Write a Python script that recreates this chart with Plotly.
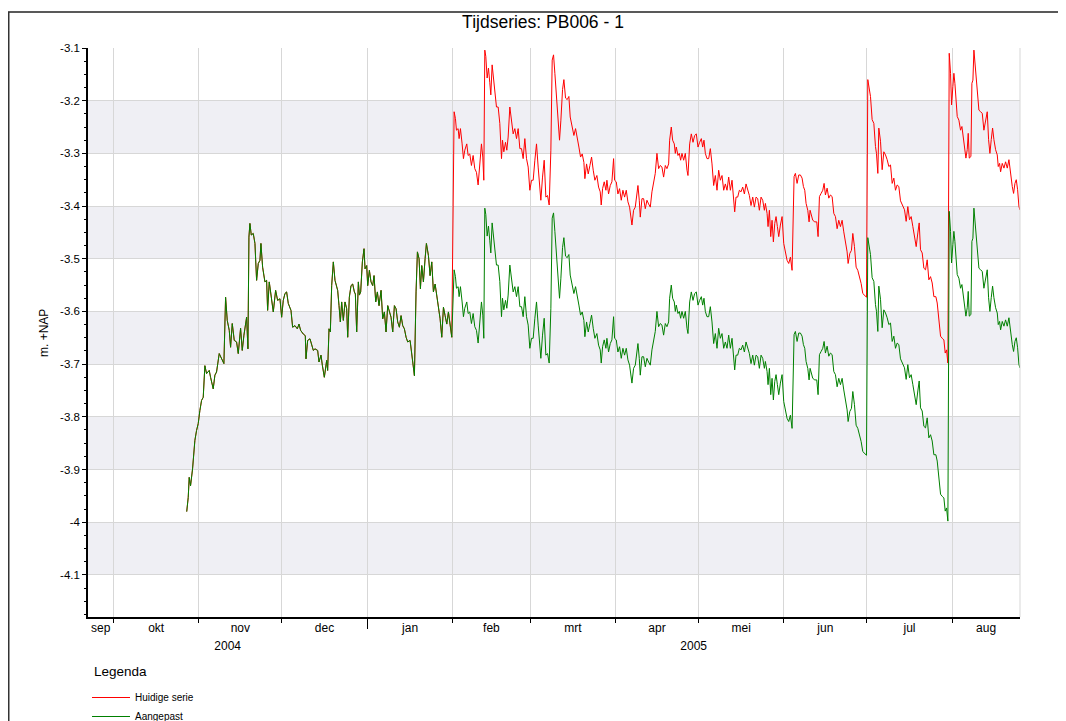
import pandas as pd
import plotly.graph_objects as go

# ---------------- data ----------------
# day offsets counted from 2004-10-01
BASE_DATE = "2004-10-01"

# period where both series coincide
shared_days = [26.57, 27.11, 27.47, 27.95, 28.68, 29.52, 30.13, 30.73, 31.34, 31.94, 32.55, 33.15, 33.76, 34.72,
               35.21, 36.17, 36.78, 37.38, 38.35, 39.20, 40.04, 40.65, 41.25, 41.98, 42.46, 43.07, 43.79, 44.64,
               45.24, 46.09, 46.69, 47.30, 47.66, 48.27, 48.75, 49.11, 49.47, 49.96, 50.68, 51.29, 51.89, 52.50,
               53.10, 53.46, 54.07, 54.91, 55.52, 55.88, 56.48, 57.09, 57.94, 58.78, 59.51, 60.36, 60.96, 61.56,
               62.17, 62.77, 63.38, 64.35, 64.95, 65.80, 66.64, 67.25, 67.85, 68.82, 69.54, 69.79, 70.39, 71.24,
               71.84, 72.45, 73.05, 74.02, 74.50, 75.23, 75.71, 76.44, 77.28, 77.64, 78.13, 78.61, 79.10, 79.70,
               80.30, 80.91, 81.27, 81.76, 82.24, 82.72, 83.33, 83.93, 84.54, 84.90, 85.50, 86.11, 86.71, 87.32,
               87.68, 88.16, 88.77, 89.13, 89.61, 90.22, 90.82, 91.19, 91.79, 92.15, 92.76, 93.36, 93.97, 94.45,
               95.06, 95.66, 96.26, 96.99, 97.60, 98.20, 98.80, 99.41, 100.01, 100.62, 101.22, 101.83, 102.43,
               103.03, 103.64, 104.24, 104.85, 105.45, 106.06, 106.66, 107.51, 108.11, 109.08, 109.68, 110.17,
               110.77, 111.26, 111.74, 112.34, 112.95, 113.43, 114.16, 114.76, 115.37, 115.97, 116.58, 117.18,
               117.79, 118.39, 118.99, 119.60, 120.20, 120.81, 121.41, 122.02, 122.62]
shared_level = [-3.980, -3.953, -3.915, -3.931, -3.899, -3.845, -3.826, -3.813, -3.788, -3.769, -3.763, -3.703,
                -3.718, -3.712, -3.725, -3.747, -3.721, -3.715, -3.680, -3.690, -3.699, -3.573, -3.617, -3.636,
                -3.668, -3.623, -3.655, -3.658, -3.680, -3.632, -3.674, -3.645, -3.629, -3.611, -3.671, -3.459,
                -3.433, -3.455, -3.452, -3.471, -3.541, -3.509, -3.503, -3.471, -3.516, -3.544, -3.541, -3.598,
                -3.544, -3.566, -3.601, -3.560, -3.579, -3.576, -3.611, -3.579, -3.566, -3.563, -3.585, -3.598,
                -3.630, -3.627, -3.633, -3.624, -3.636, -3.643, -3.646, -3.690, -3.655, -3.652, -3.661, -3.674,
                -3.671, -3.674, -3.696, -3.683, -3.702, -3.725, -3.693, -3.712, -3.633, -3.639, -3.551, -3.506,
                -3.541, -3.551, -3.560, -3.589, -3.620, -3.582, -3.617, -3.582, -3.595, -3.649, -3.573, -3.551,
                -3.548, -3.563, -3.567, -3.639, -3.544, -3.569, -3.563, -3.506, -3.481, -3.519, -3.513, -3.551,
                -3.522, -3.544, -3.551, -3.532, -3.582, -3.563, -3.589, -3.560, -3.614, -3.601, -3.639, -3.589,
                -3.601, -3.611, -3.639, -3.589, -3.595, -3.620, -3.630, -3.608, -3.627, -3.633, -3.649, -3.658,
                -3.655, -3.677, -3.722, -3.563, -3.487, -3.500, -3.557, -3.513, -3.544, -3.500, -3.471, -3.494,
                -3.532, -3.506, -3.563, -3.548, -3.567, -3.595, -3.614, -3.649, -3.592, -3.608, -3.624, -3.601,
                -3.627, -3.649]

# period after the series diverge (from 1 Feb 2005)
after_days = [123.47, 123.95, 124.31, 124.92, 125.28, 125.76, 126.37, 126.85, 127.33, 128.06, 128.55, 129.15,
              129.75, 130.36, 130.96, 131.57, 132.17, 132.78, 133.38, 133.86, 134.23, 134.59, 134.95, 135.44,
              135.92, 136.40, 136.77, 137.25, 137.74, 138.22, 138.82, 139.43, 140.03, 140.64, 141.00, 141.48,
              142.09, 142.57, 143.05, 143.66, 144.26, 144.87, 145.47, 146.08, 146.68, 147.29, 147.89, 148.49,
              149.10, 149.70, 150.31, 150.91, 151.52, 152.12, 152.73, 153.33, 153.93, 154.54, 154.90, 155.51,
              156.11, 156.72, 157.32, 157.92, 158.53, 159.01, 159.50, 159.98, 160.58, 161.19, 161.67, 162.16,
              162.76, 163.25, 163.85, 164.45, 165.06, 165.54, 166.27, 166.87, 167.48, 168.08, 168.69, 169.29,
              169.89, 170.50, 170.86, 171.47, 172.07, 172.68, 173.28, 173.88, 174.49, 175.21, 175.82, 176.42,
              176.78, 177.27, 177.87, 178.48, 178.84, 179.44, 180.05, 180.65, 181.26, 181.62, 182.23, 182.83,
              183.43, 184.04, 184.64, 185.25, 185.85, 186.46, 187.06, 187.91, 188.51, 189.12, 189.72, 190.09,
              190.57, 190.93, 191.54, 192.14, 192.75, 193.35, 193.95, 194.56, 195.16, 195.77, 196.37, 196.97,
              197.58, 198.18, 198.79, 199.39, 200.00, 200.60, 201.21, 201.57, 202.17, 202.66, 203.26, 203.63,
              203.99, 204.59, 205.08, 205.56, 206.05, 206.65, 207.25, 207.86, 208.22, 208.83, 209.43, 210.04,
              210.64, 211.24, 211.85, 212.45, 213.06, 213.54, 214.02, 214.51, 215.11, 215.72, 216.32, 216.93,
              217.53, 218.13, 218.74, 219.34, 219.95, 220.55, 221.16, 221.76, 222.37, 222.97, 223.58, 224.18,
              224.78, 225.15, 225.63, 226.24, 226.84, 227.45, 228.05, 228.66, 229.26, 229.86, 230.47, 231.07,
              231.68, 232.28, 232.89, 233.49, 234.09, 234.70, 235.30, 235.91, 236.27, 236.88, 237.24, 237.72,
              238.21, 238.69, 239.17, 239.66, 240.14, 240.62, 241.11, 241.71, 242.32, 242.92, 243.52, 244.13,
              244.73, 245.34, 245.94, 246.30, 246.67, 247.15, 247.76, 248.36, 248.96, 249.57, 250.05, 250.54,
              251.02, 251.63, 252.11, 252.47, 252.96, 253.44, 254.17, 254.89, 255.37, 255.86, 256.46, 257.07,
              257.55, 258.03, 258.64, 259.24, 259.85, 260.45, 261.06, 261.66, 262.27, 262.87, 263.47, 264.08,
              264.68, 265.29, 265.89, 266.25, 266.86, 267.46, 267.95, 268.55, 269.16, 269.76, 270.37, 270.97,
              271.57, 272.18, 272.91, 273.39, 273.87, 274.36, 274.96, 275.57, 276.17, 276.53, 277.02, 277.38,
              277.99, 278.59, 279.19, 279.80, 280.40, 281.01, 281.61, 282.22, 282.82, 283.42, 284.03, 284.63,
              285.24, 285.60, 286.08, 286.68, 287.29, 287.89, 288.50, 289.10, 289.71, 290.31, 290.92, 291.52,
              292.01, 292.49, 293.10, 293.70, 294.31, 294.91, 295.51, 296.12, 296.72, 297.33, 298.05, 298.54,
              299.14, 299.75, 300.35, 300.96, 301.44, 301.92, 302.41, 302.89, 303.37, 303.74, 304.22, 304.58,
              304.95, 305.43, 305.79, 306.40, 307.00, 307.49, 307.97, 308.45, 308.94, 309.42, 309.78, 310.15,
              310.75, 311.11, 311.48, 311.84, 312.44, 313.05, 313.65, 314.26, 314.86, 315.46, 316.07, 316.67,
              317.16, 317.64, 318.12, 318.61, 319.09, 319.70, 320.30, 320.66, 321.15, 321.51, 322.11, 322.72,
              323.32, 323.93, 324.53, 325.13, 325.74, 326.22, 326.71, 327.19, 327.68, 328.16, 328.52, 329.01]

huidige_after = [-3.221, -3.234, -3.256, -3.253, -3.272, -3.253, -3.282, -3.310, -3.294, -3.282, -3.304, -3.301,
                 -3.323, -3.304, -3.329, -3.336, -3.360, -3.326, -3.282, -3.307, -3.351, -3.104, -3.116, -3.157,
                 -3.138, -3.166, -3.189, -3.132, -3.160, -3.179, -3.212, -3.212, -3.243, -3.310, -3.275, -3.297,
                 -3.279, -3.294, -3.269, -3.212, -3.234, -3.263, -3.253, -3.272, -3.253, -3.291, -3.291, -3.310,
                 -3.272, -3.310, -3.326, -3.370, -3.351, -3.351, -3.313, -3.282, -3.326, -3.357, -3.389, -3.345,
                 -3.313, -3.383, -3.380, -3.398, -3.294, -3.123, -3.113, -3.148, -3.195, -3.243, -3.275, -3.237,
                 -3.179, -3.160, -3.195, -3.198, -3.192, -3.231, -3.250, -3.266, -3.253, -3.275, -3.288, -3.307,
                 -3.301, -3.317, -3.348, -3.320, -3.339, -3.323, -3.307, -3.332, -3.351, -3.342, -3.364, -3.373,
                 -3.398, -3.367, -3.354, -3.370, -3.351, -3.377, -3.361, -3.354, -3.310, -3.351, -3.354, -3.377,
                 -3.367, -3.389, -3.370, -3.383, -3.370, -3.392, -3.402, -3.436, -3.408, -3.402, -3.377, -3.361,
                 -3.389, -3.421, -3.386, -3.386, -3.405, -3.389, -3.396, -3.402, -3.373, -3.354, -3.338, -3.300,
                 -3.329, -3.323, -3.326, -3.345, -3.323, -3.329, -3.320, -3.275, -3.250, -3.275, -3.282, -3.300,
                 -3.288, -3.304, -3.300, -3.313, -3.300, -3.313, -3.300, -3.332, -3.342, -3.282, -3.263, -3.279,
                 -3.266, -3.263, -3.288, -3.279, -3.272, -3.288, -3.275, -3.300, -3.310, -3.310, -3.291, -3.320,
                 -3.361, -3.342, -3.370, -3.332, -3.351, -3.342, -3.370, -3.358, -3.370, -3.345, -3.370, -3.351,
                 -3.383, -3.411, -3.383, -3.383, -3.370, -3.373, -3.364, -3.377, -3.358, -3.370, -3.380, -3.399,
                 -3.383, -3.402, -3.383, -3.386, -3.408, -3.383, -3.389, -3.408, -3.395, -3.414, -3.439, -3.408,
                 -3.458, -3.427, -3.468, -3.433, -3.420, -3.439, -3.458, -3.436, -3.420, -3.471, -3.484, -3.503,
                 -3.509, -3.497, -3.522, -3.458, -3.344, -3.338, -3.357, -3.341, -3.341, -3.347, -3.363, -3.370,
                 -3.395, -3.408, -3.430, -3.408, -3.420, -3.427, -3.430, -3.430, -3.458, -3.382, -3.376, -3.370,
                 -3.357, -3.379, -3.366, -3.385, -3.379, -3.382, -3.414, -3.420, -3.443, -3.427, -3.439, -3.427,
                 -3.449, -3.465, -3.487, -3.509, -3.490, -3.484, -3.452, -3.477, -3.516, -3.522, -3.535, -3.547,
                 -3.566, -3.570, -3.573, -3.160, -3.173, -3.192, -3.236, -3.243, -3.287, -3.300, -3.338, -3.252,
                 -3.277, -3.331, -3.297, -3.303, -3.312, -3.325, -3.322, -3.357, -3.347, -3.370, -3.360, -3.363,
                 -3.390, -3.395, -3.401, -3.407, -3.429, -3.401, -3.426, -3.420, -3.439, -3.461, -3.477, -3.451,
                 -3.432, -3.483, -3.489, -3.518, -3.521, -3.502, -3.540, -3.534, -3.546, -3.572, -3.572, -3.584,
                 -3.616, -3.647, -3.651, -3.654, -3.679, -3.673, -3.698, -3.110, -3.148, -3.208, -3.173, -3.148,
                 -3.167, -3.202, -3.230, -3.237, -3.256, -3.249, -3.268, -3.281, -3.309, -3.293, -3.262, -3.309,
                 -3.306, -3.167, -3.161, -3.104, -3.148, -3.180, -3.218, -3.221, -3.224, -3.256, -3.237, -3.221,
                 -3.274, -3.300, -3.274, -3.252, -3.274, -3.293, -3.303, -3.325, -3.319, -3.335, -3.319, -3.328,
                 -3.316, -3.328, -3.312, -3.344, -3.363, -3.376, -3.357, -3.350, -3.369, -3.401, -3.407, -3.382]

aangepast_after = [-3.521, -3.534, -3.556, -3.553, -3.572, -3.553, -3.582, -3.610, -3.594, -3.582, -3.604, -3.601,
                   -3.623, -3.604, -3.629, -3.636, -3.660, -3.626, -3.582, -3.607, -3.651, -3.404, -3.416, -3.457,
                   -3.438, -3.466, -3.489, -3.432, -3.460, -3.479, -3.512, -3.512, -3.543, -3.610, -3.575, -3.597,
                   -3.579, -3.594, -3.569, -3.512, -3.534, -3.563, -3.553, -3.572, -3.553, -3.591, -3.591, -3.610,
                   -3.572, -3.610, -3.626, -3.670, -3.651, -3.651, -3.613, -3.582, -3.626, -3.657, -3.689, -3.645,
                   -3.613, -3.683, -3.680, -3.698, -3.594, -3.423, -3.413, -3.448, -3.495, -3.543, -3.575, -3.537,
                   -3.479, -3.460, -3.495, -3.498, -3.492, -3.531, -3.550, -3.566, -3.553, -3.575, -3.588, -3.607,
                   -3.601, -3.617, -3.648, -3.620, -3.639, -3.623, -3.607, -3.632, -3.651, -3.642, -3.664, -3.673,
                   -3.698, -3.667, -3.654, -3.670, -3.651, -3.677, -3.661, -3.654, -3.610, -3.651, -3.654, -3.677,
                   -3.667, -3.689, -3.670, -3.683, -3.670, -3.692, -3.702, -3.736, -3.708, -3.702, -3.677, -3.661,
                   -3.689, -3.721, -3.686, -3.686, -3.705, -3.689, -3.696, -3.702, -3.673, -3.654, -3.638, -3.600,
                   -3.629, -3.623, -3.626, -3.645, -3.623, -3.629, -3.620, -3.575, -3.550, -3.575, -3.582, -3.600,
                   -3.588, -3.604, -3.600, -3.613, -3.600, -3.613, -3.600, -3.632, -3.642, -3.582, -3.563, -3.579,
                   -3.566, -3.563, -3.588, -3.579, -3.572, -3.588, -3.575, -3.600, -3.610, -3.610, -3.591, -3.620,
                   -3.661, -3.642, -3.670, -3.632, -3.651, -3.642, -3.670, -3.658, -3.670, -3.645, -3.670, -3.651,
                   -3.683, -3.711, -3.683, -3.683, -3.670, -3.673, -3.664, -3.677, -3.658, -3.670, -3.680, -3.699,
                   -3.683, -3.702, -3.683, -3.686, -3.708, -3.683, -3.689, -3.708, -3.695, -3.714, -3.739, -3.708,
                   -3.758, -3.727, -3.768, -3.733, -3.720, -3.739, -3.758, -3.736, -3.720, -3.771, -3.784, -3.803,
                   -3.809, -3.797, -3.822, -3.758, -3.644, -3.638, -3.657, -3.641, -3.641, -3.647, -3.663, -3.670,
                   -3.695, -3.708, -3.730, -3.708, -3.720, -3.727, -3.730, -3.730, -3.758, -3.682, -3.676, -3.670,
                   -3.657, -3.679, -3.666, -3.685, -3.679, -3.682, -3.714, -3.720, -3.743, -3.727, -3.739, -3.727,
                   -3.749, -3.765, -3.787, -3.809, -3.790, -3.784, -3.752, -3.777, -3.816, -3.822, -3.835, -3.847,
                   -3.866, -3.870, -3.873, -3.460, -3.473, -3.492, -3.536, -3.543, -3.587, -3.600, -3.638, -3.552,
                   -3.577, -3.631, -3.597, -3.603, -3.612, -3.625, -3.622, -3.657, -3.647, -3.670, -3.660, -3.663,
                   -3.690, -3.695, -3.701, -3.707, -3.729, -3.701, -3.726, -3.720, -3.739, -3.761, -3.777, -3.751,
                   -3.732, -3.783, -3.789, -3.818, -3.821, -3.802, -3.840, -3.834, -3.846, -3.872, -3.872, -3.884,
                   -3.916, -3.947, -3.951, -3.954, -3.979, -3.973, -3.998, -3.410, -3.448, -3.508, -3.473, -3.448,
                   -3.467, -3.502, -3.530, -3.537, -3.556, -3.549, -3.568, -3.581, -3.609, -3.593, -3.562, -3.609,
                   -3.606, -3.467, -3.461, -3.404, -3.448, -3.480, -3.518, -3.521, -3.524, -3.556, -3.537, -3.521,
                   -3.574, -3.600, -3.574, -3.552, -3.574, -3.593, -3.603, -3.625, -3.619, -3.635, -3.619, -3.628,
                   -3.616, -3.628, -3.612, -3.644, -3.663, -3.676, -3.657, -3.650, -3.669, -3.701, -3.707, -3.682]

series_names = ["Huidige serie", "Aangepast"]
month_names = ["sep", "okt", "nov", "dec", "jan", "feb", "mrt", "apr", "mei", "jun", "jul", "aug"]
year_names = ["2004", "2005"]
y_tick_values = [-3.1, -3.2, -3.3, -3.4, -3.5, -3.6, -3.7, -3.8, -3.9, -4.0, -4.1]
y_tick_labels = ["-3.1", "-3.2", "-3.3", "-3.4", "-3.5", "-3.6", "-3.7", "-3.8", "-3.9", "-4", "-4.1"]

# ---------------- build ----------------
base = pd.Timestamp(BASE_DATE)
shared_dates = base + pd.to_timedelta(shared_days, unit="D")
after_dates = base + pd.to_timedelta(after_days, unit="D")
x_all = list(shared_dates) + list(after_dates)
red_y = shared_level + huidige_after
green_y = shared_level + aangepast_after

X_START = pd.Timestamp("2004-09-21 19:00")
X_END = pd.Timestamp("2005-08-25 13:00")
Y_RANGE = [-4.18, -3.1]

FONT = "Liberation Sans, Arial, Helvetica, sans-serif"
GRID = "#D7D7D7"
BAND = "#EFEFF4"

# figure geometry (page has an 8px body margin)
W, H = 1058, 713
ML, MR, MT, MB = 80, 46, 40, 104
PW, PH = W - ML - MR, H - MT - MB


def px_x(fx):
    """figure pixel x -> paper coordinate"""
    return (fx - ML) / PW


def px_y(fy):
    """figure pixel y -> paper coordinate"""
    return (MT + PH - fy) / PH


# month label positions: middle of each month's visible part
month_starts = pd.date_range("2004-09-01", periods=len(month_names) + 1, freq="MS")
month_mid = []
for i in range(len(month_names)):
    a = max(month_starts[i], X_START)
    b = min(month_starts[i + 1], X_END)
    month_mid.append(a + (b - a) / 2)
year_bounds = [X_START, pd.Timestamp("2005-01-01"), X_END]
year_mid = [year_bounds[i] + (year_bounds[i + 1] - year_bounds[i]) / 2 for i in range(len(year_names))]

fig = go.Figure()
fig.add_trace(go.Scatter(x=x_all, y=red_y, mode="lines", name=series_names[0],
                         line=dict(color="#FF0000", width=1)))
fig.add_trace(go.Scatter(x=x_all, y=green_y, mode="lines", name=series_names[1],
                         line=dict(color="#008000", width=1)))
# empty traces to activate the label axes
fig.add_trace(go.Scatter(x=[], y=[], xaxis="x2", showlegend=False, hoverinfo="skip"))
fig.add_trace(go.Scatter(x=[], y=[], xaxis="x3", showlegend=False, hoverinfo="skip"))

shapes = []
# alternating bands
for i in range(1, len(y_tick_values) - 1, 2):
    shapes.append(dict(type="rect", xref="paper", yref="y", x0=0, x1=1,
                       y0=y_tick_values[i], y1=y_tick_values[i + 1],
                       fillcolor=BAND, line=dict(width=0), layer="below"))
# right border of plot area
shapes.append(dict(type="line", xref="paper", yref="paper", x0=1, x1=1, y0=0, y1=1,
                   line=dict(color=GRID, width=1)))
# outer frame: top and left edges
shapes.append(dict(type="line", xref="paper", yref="paper", x0=px_x(0), x1=1.2, y0=px_y(4), y1=px_y(4),
                   line=dict(color="#222222", width=1.5)))
shapes.append(dict(type="line", xref="paper", yref="paper", x0=px_x(0.75), x1=px_x(0.75), y0=px_y(4),
                   y1=-0.4, line=dict(color="#333333", width=1.5)))

common_x = dict(type="date", range=[X_START, X_END], zeroline=False)

fig.update_layout(
    width=W, height=H,
    margin=dict(l=ML, r=MR, t=MT, b=MB, autoexpand=False),
    paper_bgcolor="white", plot_bgcolor="white",
    font=dict(family=FONT, color="black", size=12),
    title=dict(text="Tijdseries: PB006 - 1", font=dict(size=17.5, color="black"),
               xref="container", yref="container", x=535 / W, y=1 - 13.5 / H,
               xanchor="center", yanchor="middle"),
    showlegend=True,
    legend=dict(xref="container", yref="container", x=79 / W, xanchor="left",
                y=1 - 675 / H, yanchor="top", orientation="v",
                font=dict(size=10), itemwidth=38, bgcolor="rgba(0,0,0,0)", tracegroupgap=0),
    annotations=[
        dict(text="Legenda", xref="paper", yref="paper", x=px_x(84), y=px_y(663),
             xanchor="left", yanchor="middle", showarrow=False, font=dict(size=13.5, color="black")),
        dict(text="m. +NAP", xref="paper", yref="paper", x=px_x(36), y=px_y(325), textangle=-90,
             xanchor="center", yanchor="middle", showarrow=False, font=dict(size=12, color="black")),
    ],
    shapes=shapes,
    xaxis=dict(**common_x, tickmode="array", tickvals=[pd.Timestamp("2005-01-01")], ticks="outside",
               ticklen=10, tickcolor="black", tickwidth=1, showticklabels=False,
               showgrid=True, gridcolor=GRID, gridwidth=1,
               showline=True, linecolor="black", linewidth=1.5,
               minor=dict(tickmode="linear", tick0="2004-10-01", dtick="M1", ticks="outside", ticklen=4,
                          tickcolor="black", showgrid=True, gridcolor=GRID, gridwidth=1)),
    xaxis2=dict(**common_x, overlaying="x", anchor="y", side="bottom", tickmode="array",
                tickvals=month_mid, ticktext=month_names, ticks="", showgrid=False, showline=False,
                tickfont=dict(size=12), ticklabelstandoff=2),
    xaxis3=dict(**common_x, overlaying="x", anchor="y", side="bottom", tickmode="array",
                tickvals=year_mid, ticktext=year_names, ticks="", showgrid=False, showline=False,
                tickfont=dict(size=12), ticklabelstandoff=20),
    yaxis=dict(range=Y_RANGE, tickmode="array", tickvals=y_tick_values, ticktext=y_tick_labels,
               ticks="outside", ticklen=4, tickcolor="black", tickfont=dict(size=11.5),
               showgrid=True, gridcolor=GRID, gridwidth=1, zeroline=False,
               showline=True, linecolor="black", linewidth=1.5,
               minor=dict(tickmode="linear", tick0=-3.1, dtick=0.025, ticks="outside", ticklen=2,
                          tickcolor="black", showgrid=False)),
)

fig.write_html("out.html")
